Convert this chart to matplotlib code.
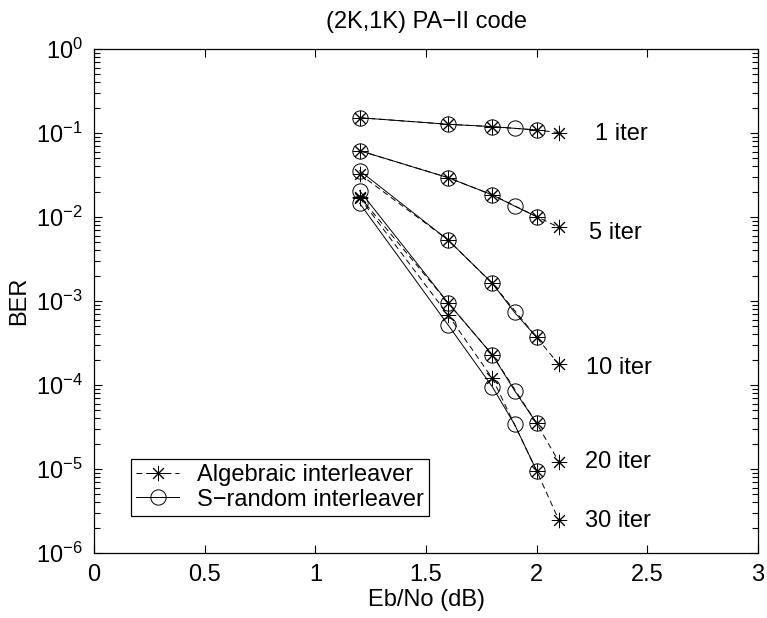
import matplotlib
matplotlib.use("Agg")
import matplotlib.pyplot as plt
from matplotlib.ticker import LogLocator, FixedLocator, NullFormatter

plt.rcParams['font.family'] = ['Liberation Sans', 'DejaVu Sans']
plt.rcParams['mathtext.fontset'] = 'custom'
plt.rcParams['mathtext.rm'] = 'Liberation Sans'
plt.rcParams['mathtext.it'] = 'Liberation Sans'
plt.rcParams['mathtext.default'] = 'regular'

# ---- data ----
x_alg = [1.2, 1.6, 1.8, 2.0, 2.1]
x_srand = [1.2, 1.6, 1.8, 1.9, 2.0]

alg_1 = [0.152, 0.127, 0.119, 0.1086, 0.101]
sr_1 = [0.152, 0.127, 0.119, 0.1137, 0.1086]
alg_5 = [0.0616, 0.0294, 0.0183, 0.0101, 0.00754]
sr_5 = [0.0616, 0.0294, 0.0183, 0.0135, 0.0101]
alg_10 = [0.0325, 0.00532, 0.00162, 0.000369, 0.000176]
sr_10 = [0.0356, 0.00532, 0.00162, 0.000733, 0.000369]
alg_20 = [0.0175, 0.00095, 0.000228, 3.5e-5, 1.22e-5]
sr_20 = [0.0206, 0.00095, 0.000228, 8.6e-5, 3.5e-5]
alg_30 = [0.017, 0.00068, 0.00012, 9.5e-6, 2.47e-6]
sr_30 = [0.0146, 0.000518, 9.5e-5, 3.4e-5, 9.5e-6]

iter_labels = ['1 iter', '5 iter', '10 iter', '20 iter', '30 iter']
label_x = [2.262, 2.235, 2.224, 2.217, 2.217]
label_y = [0.098, 0.0065, 1.58e-4, 1.21e-5, 2.4e-6]

x_ticks = [0, 0.5, 1, 1.5, 2, 2.5, 3]
x_ticklabels = ['0', '0.5', '1', '1.5', '2', '2.5', '3']
y_ticks = [1e-6, 1e-5, 1e-4, 1e-3, 1e-2, 1e-1, 1e0]
y_ticklabels = [r'$10^{-6}$', r'$10^{-5}$', r'$10^{-4}$', r'$10^{-3}$',
                r'$10^{-2}$', r'$10^{-1}$', r'$10^{0}$']

FS = 17

fig = plt.figure(figsize=(7.67, 6.18), dpi=100)
ax = fig.add_axes([94/767, 1-553/618, (758-94)/767, (553-49)/618])

ast = (8, 2, 0)
lw = 0.7
dash = (0, (6, 4))
alg_sets = [alg_1, alg_5, alg_10, alg_20, alg_30]
sr_sets = [sr_1, sr_5, sr_10, sr_20, sr_30]
for i, (a, s) in enumerate(zip(alg_sets, sr_sets)):
    ax.plot(x_alg, a, linestyle=dash, color='k', lw=lw, marker=ast,
            ms=11, mew=0.7, mfc='none',
            label='Algebraic interleaver' if i == 0 else None)
    ax.plot(x_srand, s, linestyle='-', color='k', lw=lw, marker='o',
            ms=11, mew=0.7, mfc='none',
            label='S\u2212random interleaver' if i == 0 else None)

for t, lx, ly in zip(iter_labels, label_x, label_y):
    ax.text(lx, ly, t, fontsize=FS, ha='left', va='center')

ax.set_yscale('log')
ax.set_xlim(0, 3)
ax.set_ylim(1e-6, 1)
ax.xaxis.set_major_locator(FixedLocator(x_ticks))
ax.set_xticklabels(x_ticklabels)
ax.yaxis.set_major_locator(FixedLocator(y_ticks))
ax.set_yticklabels(y_ticklabels)
ax.yaxis.set_minor_locator(LogLocator(base=10, subs=range(2, 10), numticks=20))
ax.yaxis.set_minor_formatter(NullFormatter())

ax.tick_params(which='both', direction='in', top=True, right=True,
               labelsize=FS, width=0.8, color='k')
ax.tick_params(which='major', length=6, pad=8)
ax.tick_params(which='minor', length=4)
ax.tick_params(axis='x', which='minor', top=False, bottom=False)
for sp in ax.spines.values():
    sp.set_linewidth(0.9)

ax.set_xlabel('Eb/No (dB)', fontsize=FS, labelpad=2)
ax.set_ylabel('BER', fontsize=FS, labelpad=4)
ax.set_title('(2K,1K) PA\u2212II code', fontsize=FS, pad=15)

leg = ax.legend(loc='lower left', bbox_to_anchor=(0.055, 0.074), fontsize=FS,
                frameon=True, fancybox=False, framealpha=1, edgecolor='k',
                handlelength=1.85, handletextpad=0.75, borderpad=0.22,
                labelspacing=0.1, borderaxespad=0)
leg.get_frame().set_linewidth(0.9)

fig.savefig('out.png', dpi=100)
